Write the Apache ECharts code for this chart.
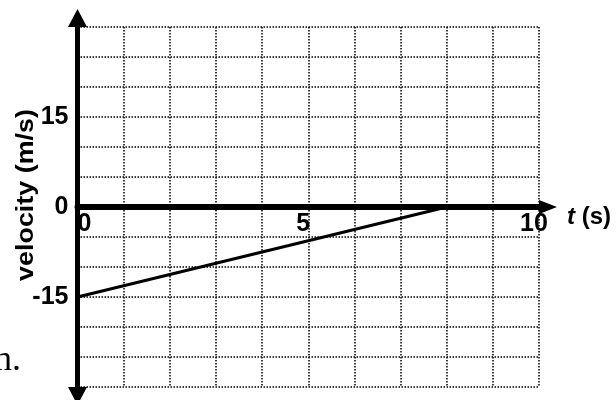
<!DOCTYPE html>
<html>
<head>
<meta charset="utf-8">
<script src="https://cdn.jsdelivr.net/npm/echarts@6/dist/echarts.min.js"></script>
<style>
    html, body { margin: 0; padding: 0; background: #fff; }
    #velocity-chart { width: 616px; height: 400px; }
</style>
</head>
<body>
<div id="velocity-chart"></div>
<script>
// chart data
var timeValues = [0, 8];
var velocityValues = [-15, 0];
var xTickLabels = [0, 5, 10];
var yTickLabels = [-15, 0, 15];
var xRange = [0, 10];
var yRange = [-30, 30];

var fontSans = '"Liberation Sans", Arial, sans-serif';
var fontSerif = '"Liberation Serif", "Times New Roman", serif';

var gridTop = 27;
var gridHeight = 360;

var chart = echarts.init(document.getElementById('velocity-chart'));

// dotted grid lines
var dottedGrid = {
    show: true,
    lineStyle: { color: '#000', width: 1.5, type: [1.5, 1.5] }
};

var option = {
    animation: false,
    backgroundColor: '#fff',

    // Setup grid
    grid: {
        left: 77.5,
        top: gridTop,
        width: 461.5,
        height: gridHeight,
        containLabel: false,
        outerBoundsMode: 'none'
    },

    // Horizontal axis (time), moved up so it runs through v = 0
    xAxis: {
        type: 'value',
        min: xRange[0],
        max: xRange[1],
        interval: 1,
        position: 'bottom',
        offset: -gridHeight * (0 - yRange[0]) / (yRange[1] - yRange[0]),
        axisLine: {
            onZero: false,
            symbol: ['none', 'triangle'],
            symbolSize: [14, 18],
            symbolOffset: [0, 9],
            lineStyle: { color: '#000', width: 6 }
        },
        axisTick: { show: false },
        axisLabel: {
            customValues: xTickLabels,
            margin: 5,
            color: '#000',
            fontFamily: fontSans,
            fontWeight: 'bold',
            fontSize: 25,
            alignMinLabel: 'left',
            padding: [0, 10, 0, 0]
        },
        splitLine: dottedGrid
    },

    // Vertical axis (velocity)
    yAxis: {
        type: 'value',
        min: yRange[0],
        max: yRange[1],
        interval: 5,
        axisLine: {
            onZero: false,
            symbol: ['triangle', 'triangle'],
            symbolSize: [19, 18],
            symbolOffset: [-9, 9],
            lineStyle: { color: '#000', width: 5 }
        },
        axisTick: { show: false },
        axisLabel: {
            customValues: yTickLabels,
            margin: 9,
            color: '#000',
            fontFamily: fontSans,
            fontWeight: 'bold',
            fontSize: 25
        },
        splitLine: dottedGrid
    },

    // Add series
    series: [{
        type: 'line',
        data: timeValues.map(function (t, i) { return [t, velocityValues[i]]; }),
        symbol: 'none',
        lineStyle: { color: '#000', width: 3 },
        z: 3
    }],

    // axis titles and the cut-off text at left
    graphic: [
        {
            type: 'text',
            x: 26,
            y: 195,
            rotation: Math.PI / 2,
            scaleX: 1.12,
            style: {
                text: 'velocity (m/s)',
                font: 'bold 24px ' + fontSans,
                fill: '#000',
                align: 'center',
                verticalAlign: 'middle'
            }
        },
        {
            type: 'text',
            x: 567,
            y: 217,
            style: {
                text: '{it|t} (s)',
                font: 'bold 24px ' + fontSans,
                fill: '#000',
                align: 'left',
                verticalAlign: 'middle',
                rich: {
                    it: { fontStyle: 'italic', fontWeight: 'bold', fontSize: 24, fontFamily: fontSans }
                }
            }
        },
        {
            type: 'text',
            x: 21,
            y: 379,
            style: {
                text: 'h.',
                font: '36px ' + fontSerif,
                fill: '#000',
                align: 'right',
                verticalAlign: 'bottom'
            }
        }
    ]
};

chart.setOption(option);
</script>
</body>
</html>
